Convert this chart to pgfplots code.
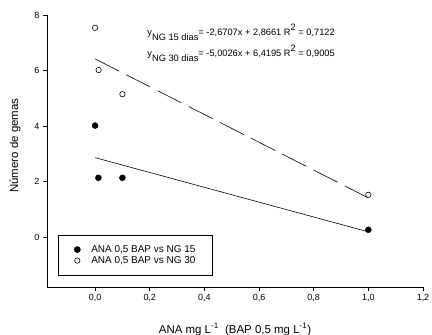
\documentclass[border=0pt]{standalone}
\usepackage{pgfplots}
\pgfplotsset{compat=1.18}
\usepackage{fontspec}
\setmainfont{Liberation Sans}
\begin{document}
\begin{tikzpicture}
\begin{axis}[
  scale only axis, width=376bp, height=272bp,
  xmin=-0.176, xmax=1.2, ymin=-1.79, ymax=8,
  axis lines*=left, axis line style={-, line width=0.6pt},
  xtick={0,0.2,0.4,0.6,0.8,1.0,1.2},
  ytick={0,2,4,6,8},
  tick align=outside, major tick length=4bp,
  tick style={black, line width=0.6pt},
  xticklabel style={/pgf/number format/.cd, use comma, fixed, fixed zerofill, precision=1},
  /pgf/number format/assume math mode=true,
  tick label style={font=\fontsize{9}{10}\selectfont},
  xlabel={ANA mg L\textsuperscript{-1}\ \ (BAP 0,5 mg L\textsuperscript{-1})},
  ylabel={Número de gemas},
  label style={font=\fontsize{11.5}{13}\selectfont},
  xlabel style={at={(axis description cs:0.5,0)}, anchor=base, yshift=-46bp},
  ylabel style={at={(axis description cs:-0.0851,0.52)}, anchor=center},
  legend style={at={(rel axis cs:0.0293,0.192)}, anchor=north west, draw=black, line width=0.6pt,
    font=\fontsize{10}{11}\selectfont, inner xsep=16bp, inner ysep=9bp, row sep=0pt,
    nodes={inner sep=1bp, text height=7.5bp, text depth=1.5bp},
    /tikz/every odd column/.append style={column sep=10bp}},
  legend cell align=left,
  clip=false,
]
\addplot[forget plot, black, line width=0.6pt] coordinates {(0,2.8661) (1,0.1954)};
\addplot[forget plot, black, line width=0.6pt, dash pattern=on 27bp off 8bp] coordinates {(0,6.4195) (1,1.4169)};
\addplot[only marks, mark=*, mark size=3bp, mark options={fill=black, draw=black}] coordinates {(0,4.02) (0.012,2.14) (0.1,2.14) (1.0,0.27)};
\addlegendentry{ANA 0,5 BAP vs NG 15\hspace{7bp}}
\addplot[only marks, mark=*, mark size=2.7bp, mark options={fill=white, draw=black, line width=0.6pt}] coordinates {(0,7.54) (0.013,6.02) (0.1,5.15) (1.0,1.53)};
\addlegendentry{ANA 0,5 BAP vs NG 30\hspace{7bp}}
\node[anchor=base west, font=\fontsize{9.3}{10}\selectfont, inner sep=0pt] at (axis cs:0.191,7.25) {y\raisebox{-5bp}{NG 15 dias}= -2,6707x + 2,8661 R\raisebox{5bp}{2} = 0,7122};
\node[anchor=base west, font=\fontsize{9.3}{10}\selectfont, inner sep=0pt] at (axis cs:0.191,6.49) {y\raisebox{-5bp}{NG 30 dias}= -5,0026x + 6,4195 R\raisebox{5bp}{2} = 0,9005};
\end{axis}
\pgfresetboundingbox
\path (rel axis cs:0,0) ++(-47bp,-48bp) rectangle ++(432bp,335bp);
\end{tikzpicture}
\end{document}
